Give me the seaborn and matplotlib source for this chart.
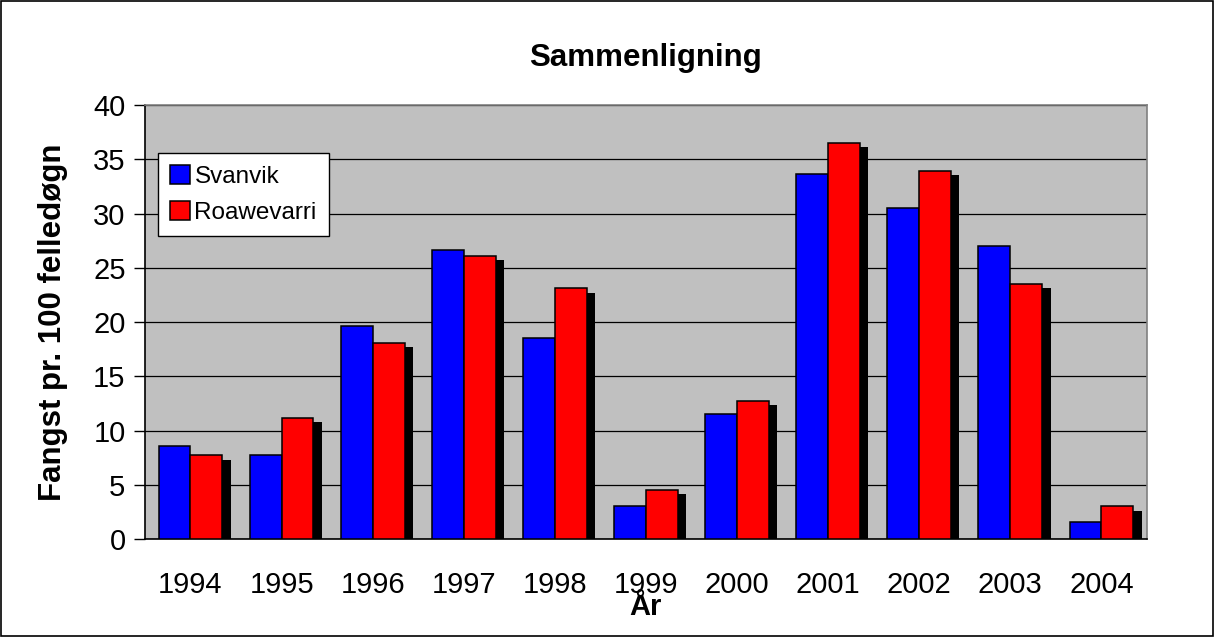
"""Sammenligning av fangst, Svanvik og Roawevarri"""

import pandas as pd
import seaborn as sns
import matplotlib.pyplot as plt
import matplotlib.patheffects as pe
from matplotlib.patches import Rectangle

years = ["1994", "1995", "1996", "1997", "1998", "1999", "2000", "2001", "2002", "2003", "2004"]
svanvik = [8.6, 7.7, 19.6, 26.6, 18.5, 3.0, 11.5, 33.6, 30.5, 27.0, 1.6]
roawevarri = [7.7, 11.2, 18.1, 26.1, 23.1, 4.5, 12.7, 36.5, 33.9, 23.5, 3.0]

sns.set_style("white")
plt.rcParams["font.family"] = ["Liberation Sans", "DejaVu Sans"]
plt.rcParams["text.color"] = "black"
plt.rcParams["axes.labelcolor"] = "black"
plt.rcParams["xtick.color"] = "black"
plt.rcParams["ytick.color"] = "black"

data = pd.DataFrame(
    {
        "År": years * 2,
        "verdi": svanvik + roawevarri,
        "stasjon": ["Svanvik"] * len(years) + ["Roawevarri"] * len(years),
    }
)

fig = plt.figure(figsize=(12.14, 6.37), dpi=100)
ax = fig.add_axes([0.1194, 0.1538, 0.8254, 0.6813])

sns.barplot(
    data=data,
    x="År",
    y="verdi",
    hue="stasjon",
    palette=["#0000FF", "#FF0000"],
    saturation=1,
    width=0.7,
    edgecolor="black",
    linewidth=1.1,
    ax=ax,
    zorder=3,
)

# skygge bak de røde søylene (den blå skyggen skjules av den røde i originalen)
for patch in ax.containers[1]:
    patch.set_path_effects(
        [
            pe.SimplePatchShadow(offset=(6, -3), shadow_rgbFace="black", alpha=1.0),
            pe.Normal(),
        ]
    )

ax.set_facecolor("#C0C0C0")
ax.set_ylim(0, 40)
ax.set_xlim(-0.5, len(years) - 0.5)
ax.set_yticks(range(0, 41, 5))
ax.yaxis.grid(True, color="black", linewidth=0.9)
ax.set_axisbelow(True)
for spine in ax.spines.values():
    spine.set_color("#808080")
    spine.set_linewidth(1.2)
ax.spines["left"].set_color("black")
ax.spines["bottom"].set_color("black")

ax.set_xticks(range(len(years)))
ax.set_xticklabels(years)
ax.set_xticks([i - 0.5 for i in range(len(years) + 1)], minor=True)
ax.tick_params(axis="x", which="major", length=0, pad=23, labelsize=21)
ax.tick_params(axis="x", which="minor", length=7, width=1, color="#404040", direction="out")
ax.tick_params(axis="y", length=8, width=1, direction="out", labelsize=21, pad=6, left=True)

ax.set_title("Sammenligning", fontsize=22.5, fontweight="bold", pad=28)
ax.set_ylabel("Fangst pr. 100 felledøgn", fontsize=22.5, fontweight="bold", labelpad=18)
ax.set_xlabel("År", fontsize=21, fontweight="bold", labelpad=-4)

handles, labels = ax.get_legend_handles_labels()
leg = ax.legend(
    handles,
    labels,
    loc="upper left",
    bbox_to_anchor=(0.013, 0.889),
    borderaxespad=0,
    fontsize=17.5,
    frameon=True,
    fancybox=False,
    edgecolor="black",
    framealpha=1,
    handlelength=0.8,
    handleheight=0.8,
    handletextpad=0.2,
    labelspacing=0.55,
    borderpad=0.5,
)
leg.get_frame().set_linewidth(1)
for h in leg.legend_handles:
    h.set_path_effects([])

fig.patches.append(
    Rectangle((0.0008, 0.0016), 0.9984, 0.9968, transform=fig.transFigure,
              fill=False, edgecolor="black", linewidth=1.2)
)

plt.savefig("out.png", dpi=100)
